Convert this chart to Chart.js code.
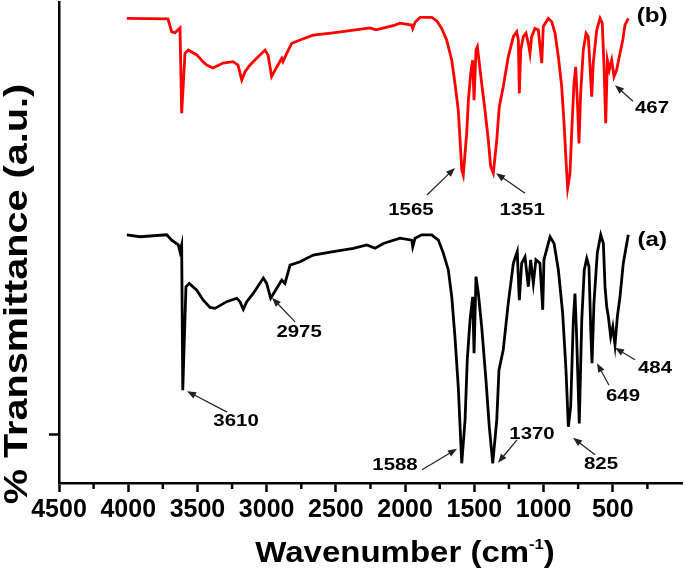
<!DOCTYPE html>
<html>
<head>
<meta charset="utf-8">
<script src="https://cdn.jsdelivr.net/npm/chart.js@4.4.1/dist/chart.umd.min.js"></script>
<style>
  html, body { margin: 0; padding: 0; background: #fff; }
  #wrap { width: 685px; height: 571px; }
</style>
</head>
<body>
<div id="wrap"><canvas id="ftir"></canvas></div>
<script>
// spectrum (a), black: wavenumber (cm-1) / transmittance (a.u.)
const waveA = [4010,3915,3722,3686,3638,3626,3614,3606,3583,3559,3505,3458,3409,3373,3289,3216,3193,3169,3144,3097,3024,3000,2971,2927,2891,2868,2831,2759,2663,2519,2374,2277,2217,2157,2037,1952,1945,1928,1880,1808,1760,1724,1688,1663,1640,1616,1603,1591,1567,1551,1531,1512,1502,1488,1471,1447,1416,1392,1367,1338,1322,1291,1255,1218,1190,1175,1158,1134,1110,1093,1074,1055,1026,1006,997,953,924,893,862,838,821,804,785,773,761,742,724,706,688,672,659,650,636,612,587,568,556,544,532,515,500,484,467,448,424,388];
const transA = [51.6,51.2,51.6,50.5,49.5,48.1,49.5,19.3,40.8,41.5,40.1,38.0,36.5,36.3,37.7,38.4,37.7,36.1,37.7,39.4,42.6,41.5,38.4,40.5,42.2,41.5,45.3,46.0,47.4,48.1,48.8,49.5,48.8,49.8,50.9,50.5,49.1,50.9,51.6,51.6,50.5,47.8,44.3,38.7,30.4,20.0,11.7,4.1,13.1,25.6,33.9,38.7,27.0,42.9,39.4,32.5,21.4,11.7,4.1,13.1,23.5,27.7,37.4,45.7,48.1,38.0,45.7,47.0,40.8,46.4,41.5,46.4,45.7,36.0,46.4,51.2,49.8,44.3,35.3,23.5,11.7,15.9,33.9,39.4,30.4,12.4,33.9,44.3,46.7,45.0,31.8,24.9,37.4,47.8,51.6,49.8,40.8,36.7,34.6,30.4,32.5,28.7,34.6,38.7,45.7,51.6];

// spectrum (b), red
const waveB = [4010,3713,3686,3662,3626,3614,3590,3566,3505,3460,3433,3388,3315,3243,3207,3180,3156,3120,3072,3012,2990,2964,2927,2891,2882,2855,2819,2759,2665,2521,2412,2254,2210,2073,2037,1952,1945,1928,1892,1808,1772,1736,1700,1663,1640,1616,1603,1591,1580,1555,1543,1526,1512,1502,1488,1478,1464,1447,1423,1399,1382,1363,1338,1320,1291,1255,1218,1194,1182,1175,1165,1146,1127,1110,1098,1086,1062,1038,1013,1002,966,941,917,893,869,852,838,826,809,797,780,768,756,744,732,713,693,677,664,652,641,616,592,576,563,551,539,525,508,491,472,453,428,412,388];
const transB = [96.6,96.5,93.8,93.6,94.6,76.9,89.3,90.0,89.0,87.6,86.9,86.3,87.3,87.6,86.9,83.8,85.5,86.9,88.3,90.0,89.0,84.5,86.5,88.3,87.6,89.3,91.4,92.1,93.1,93.6,94.0,94.6,94.2,95.2,95.6,95.2,94.5,95.8,96.8,96.8,96.1,94.5,92.1,87.9,83.1,77.5,71.3,65.1,64.0,72.8,79.6,85.2,87.9,79.6,90.0,90.7,87.3,83.1,77.5,71.3,65.8,64.4,71.3,78.2,82.4,88.6,92.8,93.8,92.1,81.0,90.0,92.8,93.5,91.4,89.3,92.8,94.5,94.2,87.3,94.9,96.6,95.9,93.5,88.6,82.4,74.8,67.2,61.3,64.4,72.7,83.1,86.5,79.6,70.6,81.0,90.0,93.5,92.8,86.5,80.3,87.3,94.2,96.6,95.6,86.5,74.8,87.9,85.9,87.9,84.5,85.9,88.6,92.1,95.2,96.6];

const xTickLabels = [4500, 4000, 3500, 3000, 2500, 2000, 1500, 1000, 500];
const xMinorTicks = [4250, 3750, 3250, 2750, 2250, 1750, 1250, 750, 250];
const yTicks = [10];

// band labels: text, arrow tip (wavenumber, transmittance)
const peakLabelsA = ['3610', '2975', '1588', '1370', '825', '649', '484'];
const tipWaveA = [3575, 2961, 1625, 1329, 787, 614, 484];
const tipTransA = [19.1, 38.5, 7.1, 4.2, 9.4, 24.9, 28.1];
const peakLabelsB = ['1565', '1351', '467'];
const tipWaveB = [1640, 1343, 484];
const tipTransB = [65.5, 64.4, 82.7];

const seriesNames = ['(a)', '(b)'];
const seriesNameWave = [215, 215];
const seriesNameTrans = [50.5, 97.1];

// label placement relative to arrow tip, px: [textDx, textDy, tailDx, tailDy]
const offA = [[49, 30, 40, 21], [27, 34, 23, 24], [-62, 16, -35, 21], [34, -28, 19, -23], [28, 27, 22, 17], [26, 33, 12, 22], [40, 20, 20, 12]];
const offB = [[-44, 42, -28, 27], [26, 37, 29, 20], [37, 23, 18, 16]];

const FONT = '"Liberation Sans", Arial, sans-serif';

function drawText(ctx, txt, x, y, size, sx) {
  ctx.save();
  ctx.translate(x, y);
  ctx.scale(sx, 1);
  ctx.font = `bold ${size}px ${FONT}`;
  ctx.textAlign = 'center';
  ctx.textBaseline = 'middle';
  ctx.fillText(txt, 0, 0);
  ctx.restore();
}

function drawArrow(ctx, x1, y1, x2, y2) {
  const a = Math.atan2(y2 - y1, x2 - x1);
  const head = 9, half = 3.5;
  const c = Math.cos(a), s = Math.sin(a);
  ctx.beginPath();
  ctx.moveTo(x1, y1);
  ctx.lineTo(x2 - head * 0.8 * c, y2 - head * 0.8 * s);
  ctx.stroke();
  ctx.beginPath();
  ctx.moveTo(x2, y2);
  ctx.lineTo(x2 - head * c + half * s, y2 - head * s - half * c);
  ctx.lineTo(x2 - head * c - half * s, y2 - head * s + half * c);
  ctx.closePath();
  ctx.fill();
}

const decor = {
  id: 'decor',
  afterDraw(chart) {
    const ctx = chart.ctx;
    const xs = chart.scales.x, ys = chart.scales.y;
    const base = chart.chartArea.bottom;
    ctx.save();
    ctx.strokeStyle = '#000';
    ctx.lineWidth = 2.5;
    xMinorTicks.forEach(w => {
      const px = xs.getPixelForValue(w);
      ctx.beginPath();
      ctx.moveTo(px, base);
      ctx.lineTo(px, base + 6);
      ctx.stroke();
    });

    // peak labels with arrows
    ctx.strokeStyle = '#222';
    ctx.fillStyle = '#222';
    ctx.lineWidth = 1.2;
    const put = (labels, ws, ts, offs) => {
      labels.forEach((lab, i) => {
        const tx = xs.getPixelForValue(ws[i]);
        const ty = ys.getPixelForValue(ts[i]);
        const o = offs[i];
        ctx.fillStyle = '#222';
        drawArrow(ctx, tx + o[2], ty + o[3], tx, ty);
        ctx.fillStyle = '#000';
        drawText(ctx, lab, tx + o[0], ty + o[1], 17, 1.2);
      });
    };
    put(peakLabelsA, tipWaveA, tipTransA, offA);
    put(peakLabelsB, tipWaveB, tipTransB, offB);

    ctx.fillStyle = '#000';
    seriesNames.forEach((n, i) => {
      drawText(ctx, n, xs.getPixelForValue(seriesNameWave[i]), ys.getPixelForValue(seriesNameTrans[i]), 21, 1.15);
    });

    // x axis title with superscript
    ctx.save();
    ctx.translate(405, 551);
    ctx.scale(1.1, 1);
    ctx.textBaseline = 'alphabetic';
    ctx.textAlign = 'left';
    const big = `bold 30px ${FONT}`, small = `bold 15px ${FONT}`;
    ctx.font = big;
    const w1 = ctx.measureText('Wavenumber (cm').width;
    const w3 = ctx.measureText(')').width;
    ctx.font = small;
    const w2 = ctx.measureText('-1').width;
    const total = w1 + w2 + w3;
    let x0 = -total / 2;
    ctx.font = big;
    ctx.fillText('Wavenumber (cm', x0, 11);
    ctx.font = small;
    ctx.fillText('-1', x0 + w1, -2);
    ctx.font = big;
    ctx.fillText(')', x0 + w1 + w2, 11);
    ctx.restore();

    // y axis title
    ctx.save();
    ctx.translate(18, 294);
    ctx.rotate(-Math.PI / 2);
    ctx.scale(1.2, 1);
    ctx.font = `bold 33px ${FONT}`;
    ctx.textAlign = 'center';
    ctx.textBaseline = 'middle';
    ctx.fillText('% Transmittance (a.u.)', 0, 0);
    ctx.restore();

    ctx.restore();
  }
};

new Chart(document.getElementById('ftir'), {
  type: 'line',
  data: {
    datasets: [
      {
        label: 'a',
        data: waveA.map((w, i) => ({ x: w, y: transA[i] })),
        borderColor: '#000000',
        borderWidth: 2.8,
        pointRadius: 0,
        tension: 0
      },
      {
        label: 'b',
        data: waveB.map((w, i) => ({ x: w, y: transB[i] })),
        borderColor: '#ff0000',
        borderWidth: 2.8,
        pointRadius: 0,
        tension: 0
      }
    ]
  },
  options: {
    responsive: true,
    maintainAspectRatio: false,
    animation: false,
    layout: { padding: { top: 2, right: 3, left: 0, bottom: 0 } },
    plugins: {
      legend: { display: false },
      tooltip: { enabled: false }
    },
    scales: {
      x: {
        type: 'linear',
        reverse: true,
        min: 0,
        max: 4500,
        border: { display: true, color: '#000', width: 2.5 },
        grid: {
          display: true,
          drawOnChartArea: false,
          drawTicks: true,
          tickLength: 9,
          tickWidth: 2.5,
          tickColor: c => (c.tick && c.tick.value === 0 ? 'rgba(0,0,0,0)' : '#000')
        },
        ticks: {
          stepSize: 500,
          autoSkip: false,
          maxRotation: 0,
          padding: 3,
          color: '#000',
          font: { family: FONT, size: 25, weight: 'bold' },
          callback: v => (xTickLabels.includes(v) ? String(v) : '')
        },
        afterFit: s => { s.height = 88; }
      },
      y: {
        min: 0,
        max: 100,
        border: { display: true, color: '#000', width: 2.5 },
        grid: {
          display: true,
          drawOnChartArea: false,
          drawTicks: true,
          tickLength: 10,
          tickWidth: 2.5,
          tickColor: '#000'
        },
        ticks: { display: false },
        afterBuildTicks: s => { s.ticks = yTicks.map(v => ({ value: v })); },
        afterFit: s => { s.width = 59; }
      }
    }
  },
  plugins: [decor]
});
</script>
</body>
</html>
